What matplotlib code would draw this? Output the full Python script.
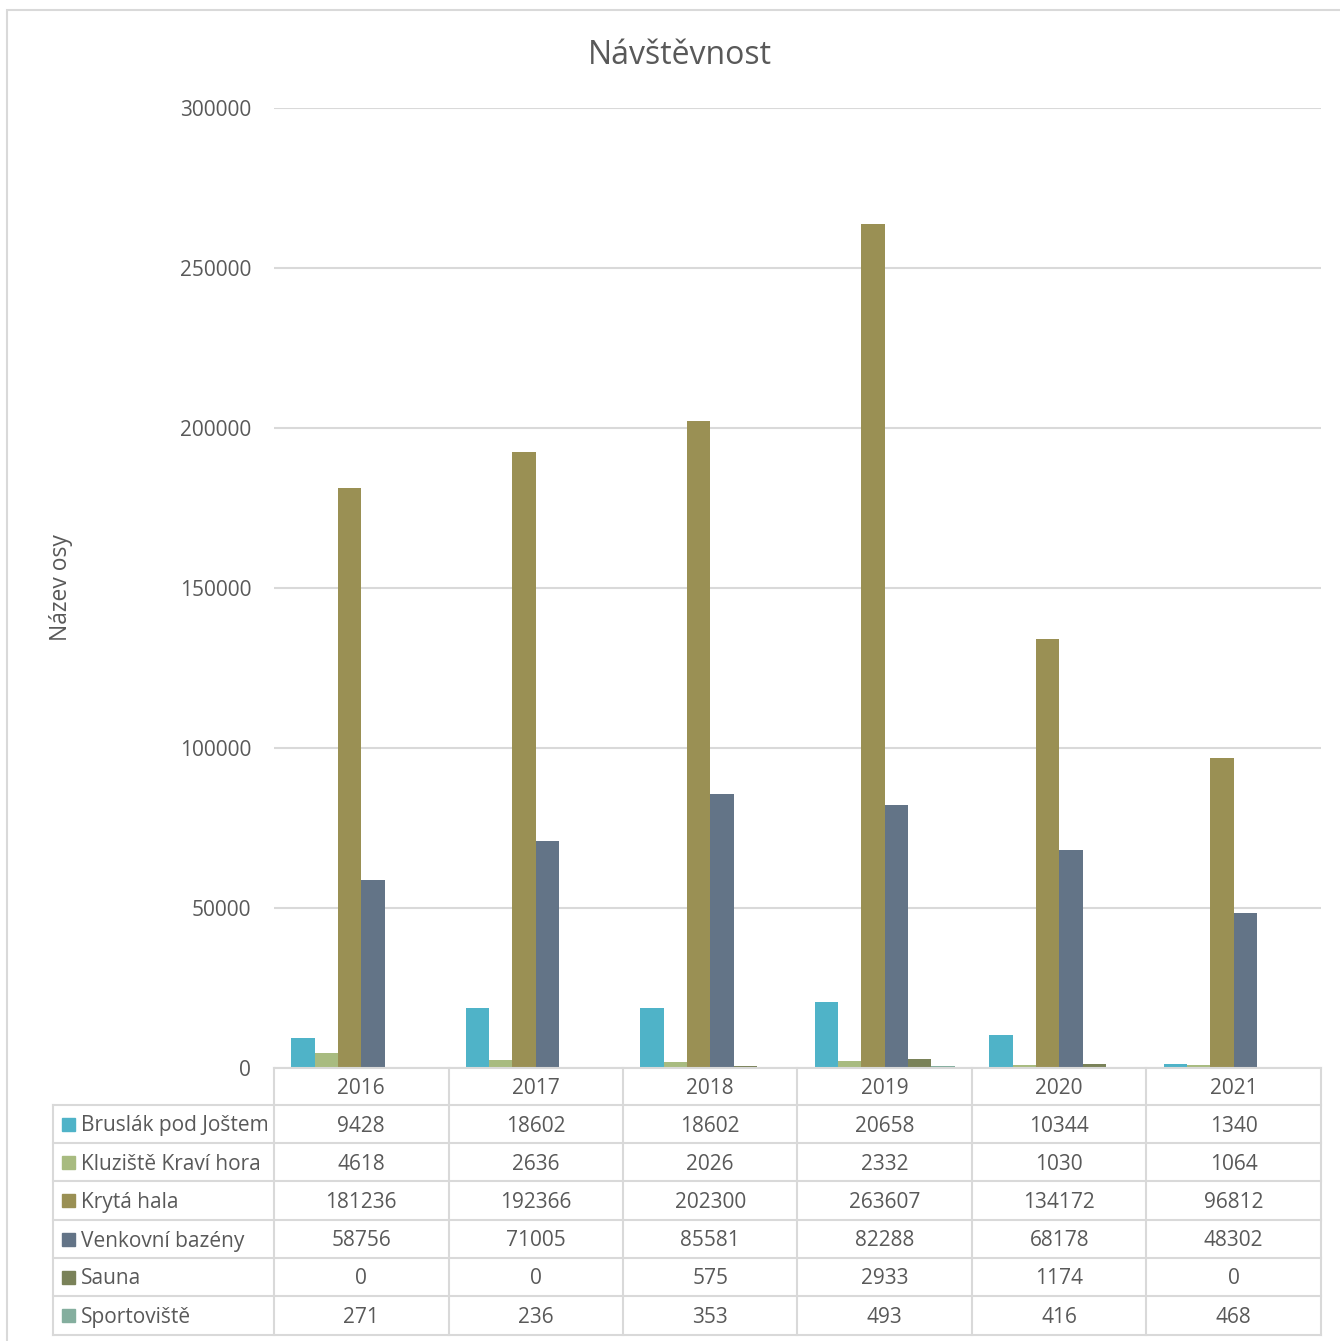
import numpy as np
import matplotlib.pyplot as plt
from matplotlib.patches import Rectangle
from matplotlib.transforms import blended_transform_factory

# --- Data ---
years = ['2016', '2017', '2018', '2019', '2020', '2021']
series_names = ['Bruslák pod Joštem', 'Kluziště Kraví hora', 'Krytá hala',
                'Venkovní bazény', 'Sauna', 'Sportoviště']
bruslak = [9428, 18602, 18602, 20658, 10344, 1340]
kluziste = [4618, 2636, 2026, 2332, 1030, 1064]
kryta_hala = [181236, 192366, 202300, 263607, 134172, 96812]
bazeny = [58756, 71005, 85581, 82288, 68178, 48302]
sauna = [0, 0, 575, 2933, 1174, 0]
sportoviste = [271, 236, 353, 493, 416, 468]
values = [bruslak, kluziste, kryta_hala, bazeny, sauna, sportoviste]
colors = ['#4fb3c8', '#a8bb80', '#9a9054', '#637487', '#7a8259', '#84ae9e']

W, H = 1340, 1341
plt.rcParams['font.family'] = ['Open Sans', 'DejaVu Sans']
text_color = '#595959'
grid_color = '#d9d9d9'
fs = 15

fig = plt.figure(figsize=(W / 100, H / 100), dpi=100)

def fx(px):
    return px / W

def fy(py):
    return 1 - py / H

# outer chart border
fig.patches.append(Rectangle((fx(7), fy(1345)), fx(1345) - fx(7), fy(10) - fy(1345),
                             transform=fig.transFigure, fill=False,
                             edgecolor=grid_color, linewidth=1.5))

ax_l, ax_r = 274, 1321
ax = fig.add_axes([fx(ax_l), fy(1068), fx(ax_r) - fx(ax_l), fy(108) - fy(1068)])

n = len(series_names)
bar_w = 0.8 / n
x = np.arange(len(years))
for i, (vals, c) in enumerate(zip(values, colors)):
    ax.bar(x - 0.4 + bar_w * (i + 0.5), vals, width=bar_w, color=c, zorder=3)

ax.set_xlim(-0.5, len(years) - 0.5)
ax.set_ylim(0, 300000)
ax.set_yticks(np.arange(0, 300001, 50000))
ax.yaxis.grid(True, color=grid_color, linewidth=1.5, zorder=0)
ax.set_xticks([])
for s in ax.spines.values():
    s.set_visible(False)
ax.tick_params(axis='y', length=0, pad=16.5, labelsize=fs, labelcolor=text_color)
ax.set_ylabel('Název osy', fontsize=16.5, color=text_color)
ax.yaxis.set_label_coords((73 - ax_l) / (ax_r - ax_l), 0.5)

fig.text(fx(680), fy(55), 'Návštěvnost', ha='center', va='center',
         fontsize=23, color=text_color)

# --- data table under the axis ---
tr = blended_transform_factory(ax.transData, fig.transFigure)
row_edges = [1068, 1105, 1143, 1181, 1220, 1258, 1296, 1335]
lw = 1.5
x_left = -0.5
x_right = len(years) - 0.5
txt_off = 2  # text sits slightly below the cell centre

# horizontal lines
for k, ry in enumerate(row_edges):
    if k == 0:
        fig.add_artist(plt.Line2D([x_left, x_right], [fy(ry), fy(ry)], transform=tr,
                                  color=grid_color, linewidth=lw))
    else:
        fig.add_artist(plt.Line2D([fx(53), fx(ax_r)], [fy(ry), fy(ry)],
                                  transform=fig.transFigure, color=grid_color, linewidth=lw))
# vertical lines
for j in range(len(years) + 1):
    xv = j - 0.5
    fig.add_artist(plt.Line2D([xv, xv], [fy(row_edges[0]), fy(row_edges[-1])], transform=tr,
                              color=grid_color, linewidth=lw))
fig.add_artist(plt.Line2D([fx(53), fx(53)], [fy(row_edges[1]), fy(row_edges[-1])],
                          transform=fig.transFigure, color=grid_color, linewidth=lw))

# header
for j, yr in enumerate(years):
    fig.text(j, fy((row_edges[0] + row_edges[1]) / 2 + txt_off), yr, transform=tr,
             ha='center', va='center', fontsize=fs, color=text_color)

# rows
for i, (name, vals, c) in enumerate(zip(series_names, values, colors)):
    yc_px = (row_edges[i + 1] + row_edges[i + 2]) / 2
    yc = fy(yc_px + txt_off)
    fig.patches.append(Rectangle((fx(62), fy(yc_px) - 6.5 / H), 13 / W, 13 / H,
                                 transform=fig.transFigure, color=c))
    fig.text(fx(81), yc, name, ha='left', va='center', fontsize=fs, color=text_color)
    for j, v in enumerate(vals):
        fig.text(j, yc, str(v), transform=tr, ha='center', va='center',
                 fontsize=fs, color=text_color)

fig.savefig('out.png', dpi=100)
